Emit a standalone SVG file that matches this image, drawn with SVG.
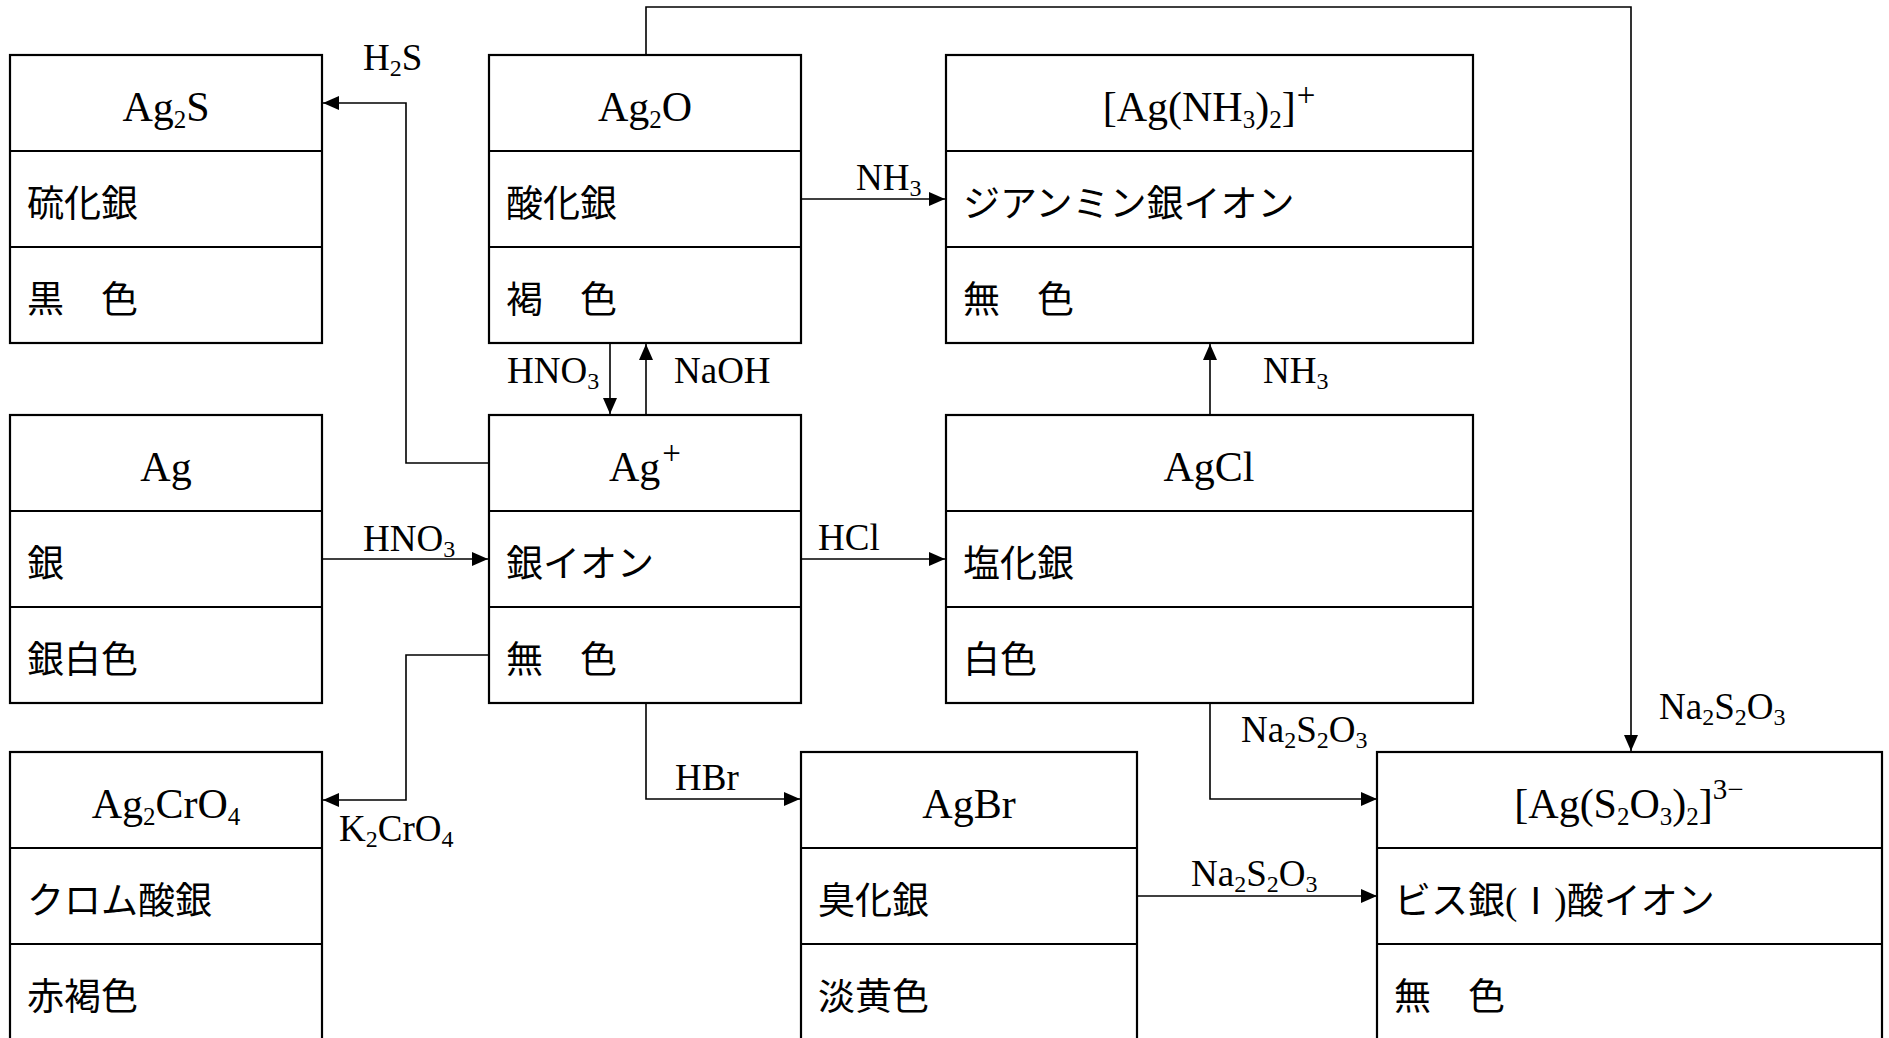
<svg xmlns="http://www.w3.org/2000/svg" width="1889" height="1038" viewBox="0 0 1889 1038">
<style>
.box{fill:#fff;stroke:#000;stroke-width:2.2}
.div{stroke:#000;stroke-width:2.2}
text{font-family:"Liberation Serif","Noto Sans CJK JP",serif;fill:#000}
.t{font-size:42px;text-anchor:middle}
.j{font-size:37px}
.l{font-size:37px}
.s{font-size:25px}
.sp{font-size:33px}
.sl{font-size:24px}
.conn{fill:none;stroke:#000;stroke-width:1.6}
</style>
<defs>
<marker id="arr" markerUnits="userSpaceOnUse" markerWidth="16" markerHeight="14" refX="16" refY="7" orient="auto">
<path d="M0,0 L16,7 L0,14 z" fill="#000"/>
</marker>
</defs>
<rect width="1889" height="1038" fill="#fff"/>

<g id="connectors">
<path class="conn" d="M489,463 H406 V103 H323" marker-end="url(#arr)"/>
<path class="conn" d="M801,199 H945" marker-end="url(#arr)"/>
<path class="conn" d="M610,343 V414" marker-end="url(#arr)"/>
<path class="conn" d="M646,415 V344" marker-end="url(#arr)"/>
<path class="conn" d="M322,559 H488" marker-end="url(#arr)"/>
<path class="conn" d="M489,655 H406 V800 H323" marker-end="url(#arr)"/>
<path class="conn" d="M801,559 H945" marker-end="url(#arr)"/>
<path class="conn" d="M1210,415 V344" marker-end="url(#arr)"/>
<path class="conn" d="M646,703 V799 H800" marker-end="url(#arr)"/>
<path class="conn" d="M1210,703 V799 H1377" marker-end="url(#arr)"/>
<path class="conn" d="M1137,896 H1377" marker-end="url(#arr)"/>
<path class="conn" d="M646,55 V7 H1631 V751" marker-end="url(#arr)"/>
<g id="labels">
<text class="l" x="363" y="70">H<tspan class="sl" dy="6">2</tspan><tspan dy="-6">S</tspan></text>
<text class="l" x="856" y="190">NH<tspan class="sl" dy="6">3</tspan></text>
<text class="l" x="507" y="383">HNO<tspan class="sl" dy="6">3</tspan></text>
<text class="l" x="674" y="383">NaOH</text>
<text class="l" x="1263" y="383">NH<tspan class="sl" dy="6">3</tspan></text>
<text class="l" x="363" y="551">HNO<tspan class="sl" dy="6">3</tspan></text>
<text class="l" x="818" y="550">HCl</text>
<text class="l" x="675" y="790">HBr</text>
<text class="l" x="339" y="841">K<tspan class="sl" dy="6">2</tspan><tspan dy="-6">CrO</tspan><tspan class="sl" dy="6">4</tspan></text>
<text class="l" x="1241" y="742">Na<tspan class="sl" dy="6">2</tspan><tspan dy="-6">S</tspan><tspan class="sl" dy="6">2</tspan><tspan dy="-6">O</tspan><tspan class="sl" dy="6">3</tspan></text>
<text class="l" x="1191" y="886">Na<tspan class="sl" dy="6">2</tspan><tspan dy="-6">S</tspan><tspan class="sl" dy="6">2</tspan><tspan dy="-6">O</tspan><tspan class="sl" dy="6">3</tspan></text>
<text class="l" x="1659" y="719">Na<tspan class="sl" dy="6">2</tspan><tspan dy="-6">S</tspan><tspan class="sl" dy="6">2</tspan><tspan dy="-6">O</tspan><tspan class="sl" dy="6">3</tspan></text>
</g>
</g>

<g id="node-Ag2S">
<rect class="box" x="10" y="55" width="312" height="288"/>
<line class="div" x1="10" y1="151" x2="322" y2="151"/>
<line class="div" x1="10" y1="247" x2="322" y2="247"/>
<text class="t" x="166" y="121">Ag<tspan class="s" dy="7">2</tspan><tspan dy="-7">S</tspan></text>
<text class="j" x="27" y="217">硫化銀</text>
<text class="j" x="27" y="313">黒　色</text>
</g>

<g id="node-Ag2O">
<rect class="box" x="489" y="55" width="312" height="288"/>
<line class="div" x1="489" y1="151" x2="801" y2="151"/>
<line class="div" x1="489" y1="247" x2="801" y2="247"/>
<text class="t" x="645" y="121">Ag<tspan class="s" dy="7">2</tspan><tspan dy="-7">O</tspan></text>
<text class="j" x="506" y="217">酸化銀</text>
<text class="j" x="506" y="313">褐　色</text>
</g>

<g id="node-AgNH3">
<rect class="box" x="946" y="55" width="527" height="288"/>
<line class="div" x1="946" y1="151" x2="1473" y2="151"/>
<line class="div" x1="946" y1="247" x2="1473" y2="247"/>
<text class="t" x="1209" y="121">[Ag(NH<tspan class="s" dy="7">3</tspan><tspan dy="-7">)</tspan><tspan class="s" dy="7">2</tspan><tspan dy="-7">]</tspan><tspan class="sp" dy="-15" dx="1">+</tspan></text>
<text class="j" x="963" y="217">ジアンミン銀イオン</text>
<text class="j" x="963" y="313">無　色</text>
</g>

<g id="node-Ag">
<rect class="box" x="10" y="415" width="312" height="288"/>
<line class="div" x1="10" y1="511" x2="322" y2="511"/>
<line class="div" x1="10" y1="607" x2="322" y2="607"/>
<text class="t" x="166" y="481">Ag</text>
<text class="j" x="27" y="577">銀</text>
<text class="j" x="27" y="673">銀白色</text>
</g>

<g id="node-Agplus">
<rect class="box" x="489" y="415" width="312" height="288"/>
<line class="div" x1="489" y1="511" x2="801" y2="511"/>
<line class="div" x1="489" y1="607" x2="801" y2="607"/>
<text class="t" x="645" y="481">Ag<tspan class="sp" dy="-17" dx="2">+</tspan></text>
<text class="j" x="506" y="577">銀イオン</text>
<text class="j" x="506" y="673">無　色</text>
</g>

<g id="node-AgCl">
<rect class="box" x="946" y="415" width="527" height="288"/>
<line class="div" x1="946" y1="511" x2="1473" y2="511"/>
<line class="div" x1="946" y1="607" x2="1473" y2="607"/>
<text class="t" x="1209" y="481">AgCl</text>
<text class="j" x="963" y="577">塩化銀</text>
<text class="j" x="963" y="673">白色</text>
</g>

<g id="node-Ag2CrO4">
<rect class="box" x="10" y="752" width="312" height="288"/>
<line class="div" x1="10" y1="848" x2="322" y2="848"/>
<line class="div" x1="10" y1="944" x2="322" y2="944"/>
<text class="t" x="166" y="818">Ag<tspan class="s" dy="7">2</tspan><tspan dy="-7">CrO</tspan><tspan class="s" dy="7">4</tspan></text>
<text class="j" x="27" y="914">クロム酸銀</text>
<text class="j" x="27" y="1010">赤褐色</text>
</g>

<g id="node-AgBr">
<rect class="box" x="801" y="752" width="336" height="288"/>
<line class="div" x1="801" y1="848" x2="1137" y2="848"/>
<line class="div" x1="801" y1="944" x2="1137" y2="944"/>
<text class="t" x="969" y="818">AgBr</text>
<text class="j" x="818" y="914">臭化銀</text>
<text class="j" x="818" y="1010">淡黄色</text>
</g>

<g id="node-AgS2O3">
<rect class="box" x="1377" y="752" width="505" height="288"/>
<line class="div" x1="1377" y1="848" x2="1882" y2="848"/>
<line class="div" x1="1377" y1="944" x2="1882" y2="944"/>
<text class="t" x="1629" y="818">[Ag(S<tspan class="s" dy="7">2</tspan><tspan dy="-7">O</tspan><tspan class="s" dy="7">3</tspan><tspan dy="-7">)</tspan><tspan class="s" dy="7">2</tspan><tspan dy="-7">]</tspan><tspan class="s" dy="-19" style="font-size:29px">3−</tspan></text>
<text class="j" x="1394" y="914">ビス銀(Ⅰ)酸イオン</text>
<text class="j" x="1394" y="1010">無　色</text>
</g>
</svg>
